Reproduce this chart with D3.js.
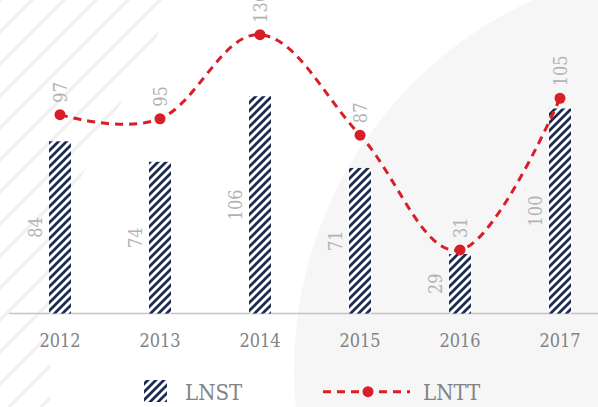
<!DOCTYPE html>
<html>
<head>
<meta charset="utf-8">
<script src="https://cdn.jsdelivr.net/npm/d3@7"></script>
<style>
  html, body { margin: 0; padding: 0; background: #fff; }
  svg { display: block; }
  .lbl { font-family: "DejaVu Serif Condensed", "DejaVu Serif", serif; font-stretch: condensed; }
</style>
</head>
<body>
<svg id="chart" width="598" height="407"></svg>
<script>
// ---- data ----
const years = ["2012", "2013", "2014", "2015", "2016", "2017"];
const lnst = [84, 74, 106, 71, 29, 100];
const lntt = [97, 95, 136, 87, 31, 105];
const seriesNames = ["LNST", "LNTT"];

const W = 598, H = 407;
const svg = d3.select("#chart");
const defs = svg.append("defs");

// hatch pattern for bars
const hatch = defs.append("pattern")
  .attr("id", "hatch").attr("patternUnits", "userSpaceOnUse")
  .attr("width", 8).attr("height", 8);
hatch.append("rect").attr("width", 8).attr("height", 8).attr("fill", "#fff");
hatch.append("path")
  .attr("d", "M-2,2 L2,-2 M0,8 L8,0 M6,10 L10,6")
  .attr("stroke", "#1b2a50").attr("stroke-width", 2.7);

// background stripe pattern
const bgp = defs.append("pattern")
  .attr("id", "bgstripe").attr("patternUnits", "userSpaceOnUse")
  .attr("width", 32).attr("height", 32);
bgp.append("path")
  .attr("d", "M-8,8 L8,-8 M0,32 L32,0 M24,40 L40,24")
  .attr("stroke", "#efefef").attr("stroke-width", 3);

defs.append("clipPath").attr("id", "stripeClip")
  .append("polygon").attr("points", "0,0 176,0 50,235 50,407 0,407");

// background decorations
svg.append("rect").attr("width", W).attr("height", H).attr("fill", "#fff");
svg.append("rect").attr("width", W).attr("height", H)
  .attr("fill", "url(#bgstripe)").attr("clip-path", "url(#stripeClip)");
svg.append("circle").attr("cx", 700).attr("cy", 370).attr("r", 406).attr("fill", "#f6f6f7");

// scales
const x = d3.scaleBand().domain(years).range([10, 610]).paddingInner(0.78).paddingOuter(0.39);
const y = d3.scaleLinear().domain([0, 150]).range([313.5, 313.5 - 150 * 2.05]);
const cx = d => x(d) + x.bandwidth() / 2;

// axis
const axis = svg.append("g").attr("transform", `translate(0,${y(0)})`)
  .call(d3.axisBottom(x).tickSize(0).tickPadding(21).tickSizeOuter(0));
axis.select(".domain").attr("stroke", "#c4c4c4").attr("stroke-width", 1.5).attr("d", "M9,0H598");
axis.selectAll("text").attr("class", "lbl").attr("font-size", 18).attr("fill", "#838383");

// bars
svg.append("g").selectAll("rect").data(years).join("rect")
  .attr("x", d => x(d)).attr("width", x.bandwidth())
  .attr("y", (d, i) => y(lnst[i])).attr("height", (d, i) => y(0) - y(lnst[i]))
  .attr("fill", "url(#hatch)");

// bar labels
svg.append("g").selectAll("text").data(years).join("text")
  .attr("class", "lbl").attr("font-size", 18).attr("fill", "#b3b3b3")
  .attr("text-anchor", "middle").attr("dominant-baseline", "central")
  .attr("transform", (d, i) => `translate(${cx(d) - 25},${(y(lnst[i]) + y(0)) / 2}) rotate(-90)`)
  .text((d, i) => lnst[i]);

// line
const lineGen = d3.line().x((d, i) => cx(years[i])).y(d => y(d)).curve(d3.curveCardinal.tension(-0.1));
svg.append("path").datum(lntt).attr("d", lineGen)
  .attr("fill", "none").attr("stroke", "#d81e27").attr("stroke-width", 3)
  .attr("stroke-dasharray", "8,6");

svg.append("g").selectAll("circle").data(lntt).join("circle")
  .attr("cx", (d, i) => cx(years[i])).attr("cy", d => y(d)).attr("r", 5.5).attr("fill", "#d81e27");

svg.append("g").selectAll("text").data(lntt).join("text")
  .attr("class", "lbl").attr("font-size", 18).attr("fill", "#b3b3b3")
  .attr("text-anchor", "start").attr("dominant-baseline", "central")
  .attr("transform", (d, i) => `translate(${cx(years[i])},${y(d) - 12}) rotate(-90)`)
  .text(d => d);

// legend
const lg = svg.append("g");
lg.append("rect").attr("x", 144).attr("y", 380).attr("width", 23).attr("height", 22).attr("fill", "url(#hatch)");
lg.append("text").attr("class", "lbl").attr("x", 185).attr("y", 399.5)
  .attr("font-size", 22).attr("fill", "#838383").text(seriesNames[0]);
lg.append("line").attr("x1", 323).attr("x2", 410).attr("y1", 391.7).attr("y2", 391.7)
  .attr("stroke", "#d81e27").attr("stroke-width", 3).attr("stroke-dasharray", "8,6");
lg.append("circle").attr("cx", 368).attr("cy", 391.7).attr("r", 5.5).attr("fill", "#d81e27");
lg.append("text").attr("class", "lbl").attr("x", 423).attr("y", 399.5)
  .attr("font-size", 22).attr("fill", "#838383").text(seriesNames[1]);
</script>
</body>
</html>
